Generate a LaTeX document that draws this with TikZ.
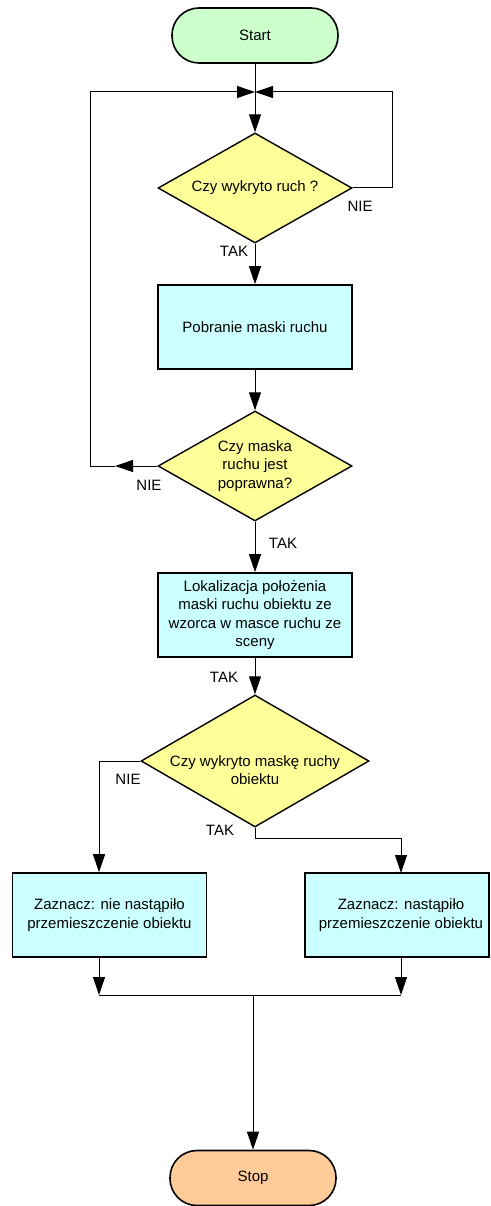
\documentclass[tikz,border=0pt]{standalone}
\usepackage{fontspec}
\setmainfont{Liberation Sans}
\usetikzlibrary{shapes.geometric,arrows.meta,calc}
\definecolor{startc}{HTML}{CCFFCC}
\definecolor{stopc}{HTML}{FFCC99}
\definecolor{boxc}{HTML}{CCFFFF}
\definecolor{decc}{HTML}{FFFF99}
\begin{document}
\begin{tikzpicture}[x=1pt,y=-1pt,
  every node/.append style={font=\fontsize{15}{18.5}\selectfont},
  term/.style={draw, line width=1.6pt, rounded corners=27pt, minimum width=166pt, minimum height=55pt, inner sep=0},
  proc/.style={draw, line width=1.6pt, fill=boxc, minimum width=194pt, minimum height=84pt, inner sep=0, align=center},
  dec/.style={draw, diamond, line width=1.4pt, fill=decc, minimum width=194pt, minimum height=110pt, inner sep=0},
  lab/.style={inner sep=0, align=center},
  conn/.style={line width=1pt},
  arr/.style={conn, -{Triangle[length=18pt,width=12pt]}},
]
\useasboundingbox (0,0) rectangle (490,1206);

\node[term, fill=startc] (start) at (255,35.5) {Start};
\node[dec] (d1) at (255,188) {};
\node[lab] (t1) at (d1.center) {Czy wykryto ruch ?};
\node[proc] (b1) at (255,327) {Pobranie maski ruchu};
\node[dec] (d2) at (255,466) {};
\node[lab] (t2) at (d2.center) {Czy maska\\ruchu jest\\poprawna?};
\node[proc] (b2) at (255,615) {Lokalizacja położenia\\maski ruchu obiektu ze\\wzorca w masce ruchu ze\\sceny};
\node[dec, minimum width=228pt, minimum height=132pt] (d3) at (255,761) {};
\node[lab] (t3) at (255,770) {Czy wykryto maskę ruchy\\obiektu};
\node[proc] (b3) at (109.5,915) {Zaznacz: nie nastąpiło\\przemieszczenie obiektu};
\node[proc, minimum width=184pt] (b4) at (397,915) {};
\node[lab] (t4) at (401,915) {Zaznacz: nastąpiło\\przemieszczenie obiektu};
\node[term, fill=stopc] (stop) at (253,1178) {Stop};

% labels
\node[lab] (l1) at (360,206) {NIE};
\node[lab] (l2) at (234,251) {TAK};
\node[lab] (l3) at (149,485) {NIE};
\node[lab] (l4) at (283,543) {TAK};
\node[lab] (l5) at (224,677) {TAK};
\node[lab] (l6) at (128,779) {NIE};
\node[lab] (l7) at (220,830) {TAK};

% coordinates
\coordinate (j1) at (255,92);
\coordinate (r1) at (392,188);
\coordinate (n2) at (90,466);
\coordinate (a2) at (115,466);
\coordinate (n3) at (99,761);
\coordinate (t3c) at (255,838);
\coordinate (p4) at (401,873);
\coordinate (jl) at (99,995);
\coordinate (jr) at (401,995);
\coordinate (jm) at (253,995);

% connectors
\draw[arr] (start) -- (d1);
\draw[arr] (d1.east) -- (r1) |- (j1);
\draw[arr] (d1) -- (b1);
\draw[arr] (b1) -- (d2);
\draw[arr] (d2.west) -- (a2);
\draw[arr] (a2) -- (n2) |- (j1);
\draw[arr] (d2) -- (b2);
\draw[arr] (b2) -- (d3);
\draw[arr] (d3.west) -- (n3) -- (n3 |- b3.north);
\draw[arr] (d3.south) -- (t3c) -| (p4);
\draw[arr] (b3.south -| jl) -- (jl);
\draw[arr] (b4.south -| jr) -- (jr);
\draw[conn] (jl) -- (jr);
\draw[arr] (jm) -- (stop);
\end{tikzpicture}
\end{document}
